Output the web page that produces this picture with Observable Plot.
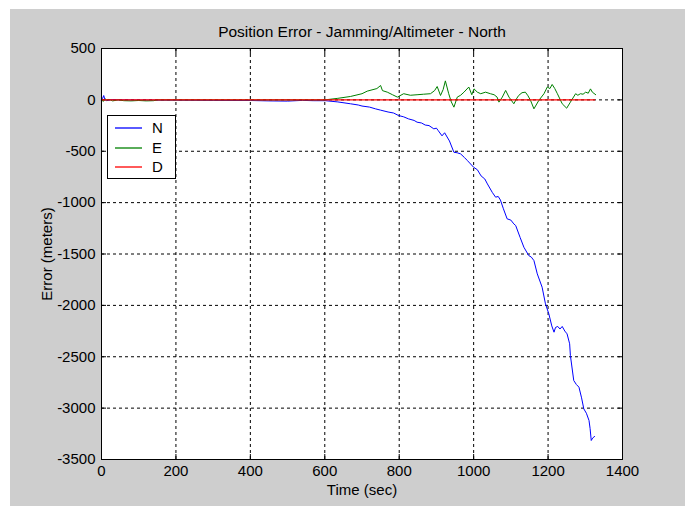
<!DOCTYPE html>
<html>
<head>
<meta charset="utf-8">
<script src="https://cdn.jsdelivr.net/npm/d3@7"></script>
<script src="https://cdn.jsdelivr.net/npm/@observablehq/plot@0.6"></script>
<style>
  html, body { margin: 0; padding: 0; background: #ffffff; }
  #figure { position: relative; width: 688px; height: 508px; font-family: "Liberation Sans", Arial, sans-serif; }
  #panel { position: absolute; left: 10px; top: 9px; width: 675px; height: 497px; background: #cecece; }
  #chart { position: absolute; left: 0; top: 0; }
  #legend { position: absolute; left: 107px; top: 115px; width: 67px; height: 62px; background: #ffffff; border: 1px solid #000; font-size: 15px; }
  #legend .row { position: absolute; left: 0; height: 18px; }
  #legend svg { position: absolute; left: 7px; top: 0; }
  #legend span { position: absolute; left: 44px; top: 0; line-height: 18px; }
</style>
</head>
<body>
<div id="figure">
  <div id="panel"></div>
  <div id="chart"></div>
  <div id="legend"></div>
</div>
<script>
// Axis ticks
const xTicks = [0, 200, 400, 600, 800, 1000, 1200, 1400];
const yTicks = [500, 0, -500, -1000, -1500, -2000, -2500, -3000, -3500];

// North position error (m) against time (s)
const nTime = [0, 3, 6, 9, 14, 25, 50, 100, 200, 300, 400, 450, 500, 540, 570, 602, 635, 669, 690, 700, 720, 736, 750, 770, 785, 798, 812, 825, 840, 848, 860, 870, 880, 893, 900, 905, 915, 922, 935, 947, 956, 965, 975, 983, 1000, 1010, 1020, 1030, 1037, 1050, 1059, 1066, 1072, 1080, 1090, 1100, 1108, 1113, 1125, 1135, 1148, 1155, 1162, 1171, 1184, 1193, 1202, 1210, 1216, 1220, 1226, 1232, 1238, 1245, 1251, 1258, 1260, 1269, 1276, 1283, 1290, 1296, 1303, 1310, 1313, 1316, 1320, 1325];
const nValue = [0, 15, 42, 5, -8, 2, 0, -2, -3, -5, -6, -10, -12, -5, -8, -8, -20, -38, -50, -60, -70, -87, -100, -118, -128, -152, -165, -185, -200, -217, -225, -245, -250, -282, -275, -300, -350, -320, -400, -510, -515, -526, -560, -590, -656, -680, -740, -770, -818, -900, -947, -940, -975, -1060, -1158, -1170, -1207, -1223, -1340, -1434, -1515, -1530, -1564, -1693, -1823, -1985, -2082, -2200, -2261, -2215, -2205, -2230, -2205, -2250, -2277, -2374, -2488, -2731, -2770, -2796, -2900, -3007, -3050, -3120, -3200, -3315, -3290, -3276];

// East position error (m)
const eTime = [0, 5, 10, 15, 20, 30, 45, 60, 80, 100, 120, 140, 150, 300, 450, 600, 635, 669, 700, 714, 740, 750, 755, 768, 782, 795, 812, 830, 848, 865, 884, 895, 902, 911, 918, 924, 933, 940, 947, 956, 965, 974, 987, 995, 1001, 1010, 1019, 1032, 1045, 1055, 1063, 1068, 1077, 1086, 1095, 1108, 1115, 1121, 1130, 1139, 1146, 1153, 1162, 1175, 1189, 1198, 1205, 1211, 1218, 1225, 1238, 1250, 1260, 1274, 1280, 1287, 1294, 1301, 1308, 1314, 1319, 1328];
const eValue = [0, -15, 10, -5, 5, -10, 0, -8, -10, -6, -10, -8, 0, 0, 0, 0, 15, 33, 60, 85, 110, 140, 90, 75, 50, 27, 60, 45, 50, 55, 60, 90, 130, 43, 100, 185, 60, -20, -71, 27, 45, 75, 125, 50, 107, 75, 60, 75, 60, 50, 27, -22, 27, 92, 27, -38, 10, 43, 70, 75, 40, -6, -87, -6, 60, 125, 110, 150, 110, 60, -38, -81, -22, 60, 45, 60, 55, 75, 65, 107, 75, 50];

// Down position error (m)
const dTime = [0, 300, 600, 900, 1200, 1325];
const dValue = [0, 0, 0, 0, 0, 0];

const seriesNames = ["N", "E", "D"];
const seriesColors = ["#0000ff", "#008000", "#ff0000"];

const toRows = (time, value) => time.map((t, i) => ({t, v: value[i]}));
const north = toRows(nTime, nValue);
const east = toRows(eTime, eValue);
const down = toRows(dTime, dValue);

const gridDash = "3,3";
const plain = d => String(d);

const chart = Plot.plot({
  width: 688,
  height: 508,
  marginLeft: 101,
  marginRight: 66,
  marginTop: 48,
  marginBottom: 49,
  style: {background: "transparent", fontFamily: "'Liberation Sans', Arial, sans-serif", fontSize: "15px", color: "#000"},
  x: {domain: [0, 1400]},
  y: {domain: [-3500, 500]},
  marks: [
    Plot.frame({fill: "#ffffff", stroke: null}),
    Plot.gridX(xTicks, {stroke: "#000", strokeOpacity: 1, strokeDasharray: gridDash}),
    Plot.gridY(yTicks, {stroke: "#000", strokeOpacity: 1, strokeDasharray: gridDash}),
    // inward tick marks on all four sides
    Plot.axisX(xTicks, {anchor: "bottom", tickSize: -5, text: null, label: null}),
    Plot.axisX(xTicks, {anchor: "top", tickSize: -5, text: null, label: null}),
    Plot.axisY(yTicks, {anchor: "left", tickSize: -5, text: null, label: null}),
    Plot.axisY(yTicks, {anchor: "right", tickSize: -5, text: null, label: null}),
    // tick labels and axis titles
    Plot.axisX(xTicks, {anchor: "bottom", tickSize: 0, tickPadding: 6, tickFormat: plain, label: "Time (sec)", labelAnchor: "center", labelArrow: "none", labelOffset: 35}),
    Plot.axisY(yTicks, {anchor: "left", tickSize: 0, tickPadding: 6, tickFormat: plain, label: "Error (meters)", labelAnchor: "center", labelArrow: "none", labelOffset: 60}),
    Plot.line(north, {x: "t", y: "v", stroke: seriesColors[0], strokeWidth: 1}),
    Plot.line(east, {x: "t", y: "v", stroke: seriesColors[1], strokeWidth: 1}),
    Plot.line(down, {x: "t", y: "v", stroke: seriesColors[2], strokeWidth: 1.3}),
    Plot.frame({stroke: "#000", strokeWidth: 1}),
    Plot.text(["Position Error - Jamming/Altimeter - North"], {frameAnchor: "top", dy: -23, fontSize: 15.5})
  ]
});
document.getElementById("chart").appendChild(chart);

// Legend box
const legend = document.getElementById("legend");
seriesNames.forEach((name, i) => {
  const row = document.createElement("div");
  row.className = "row";
  row.style.top = (3 + i * 19.5) + "px";
  row.style.width = "100%";
  row.innerHTML = `<svg width="30" height="18"><line x1="0" x2="27" y1="9" y2="9" stroke="${seriesColors[i]}" stroke-width="1.3"/></svg><span>${name}</span>`;
  legend.appendChild(row);
});
</script>
</body>
</html>
